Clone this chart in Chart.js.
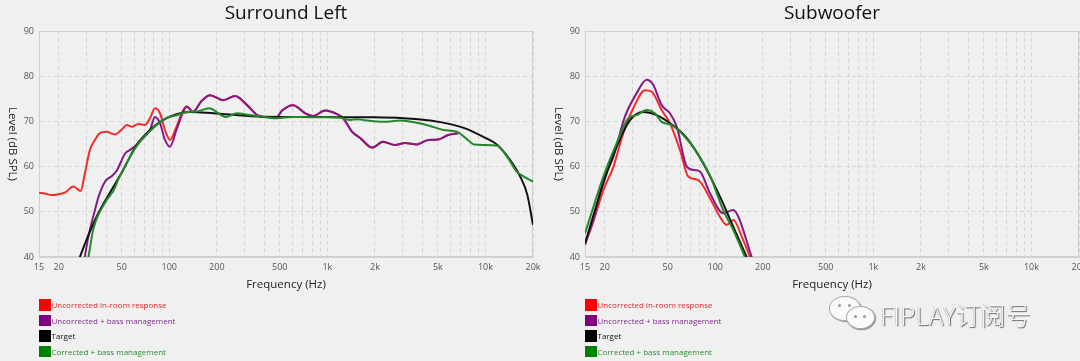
<!DOCTYPE html>
<html>
<head>
<meta charset="utf-8">
<script src="https://cdn.jsdelivr.net/npm/chart.js@4.4.1/dist/chart.umd.min.js"></script>
<style>
  html, body { margin: 0; padding: 0; }
  body {
    width: 1080px; height: 361px; overflow: hidden; position: relative;
    background: #f0f0f0; font-family: "Open Sans", "Noto Sans", sans-serif;
  }
  .panel { position: absolute; top: 0; width: 540px; height: 361px; }
  .panel canvas { position: absolute; left: 0; top: 0; }
  .title { position: absolute; left: 39px; width: 494px; top: -1px; text-align: center; font-size: 19px; line-height: 26px; color: #111; }
  .ylab { position: absolute; left: 6px; top: 31px; height: 226px; writing-mode: vertical-rl; text-align: center; font-size: 11.5px; color: #222; }
  .xlab { position: absolute; left: 39px; width: 494px; top: 276px; text-align: center; font-size: 11.5px; color: #222; }
  .legend { position: absolute; left: 39px; top: 299px; font-size: 8px; }
  .legend .row { height: 15.5px; display: flex; align-items: flex-start; }
  .legend .box { width: 11.5px; height: 11.5px; margin-right: 1px; }
  .legend .txt { line-height: 11.5px; }
  .bub { position: absolute; border-radius: 50%; background: #fafafa; border: 1px solid #aaa; box-shadow: 1px 1px 1px #888; }
  .bub i { position: absolute; width: 3px; height: 3px; border-radius: 50%; background: #999; }
  .wmtext { position: absolute; left: 880px; top: 296px; font-size: 25px; font-weight: 300; color: #f7f7f7;
    font-family: "Noto Sans CJK SC", "Open Sans", sans-serif; text-shadow: 1px 1px 1px #666, -0.5px -0.5px 0 #bbb; }
</style>
</head>
<body>

<div class="panel" style="left:0">
  <canvas id="surroundLeft" width="540" height="361"></canvas>
  <div class="title">Surround Left</div>
  <div class="ylab">Level (dB SPL)</div>
  <div class="xlab">Frequency (Hz)</div>
  <div class="legend" id="legend1"></div>
</div>

<div class="panel" style="left:546px">
  <canvas id="subwoofer" width="540" height="361"></canvas>
  <div class="title">Subwoofer</div>
  <div class="ylab">Level (dB SPL)</div>
  <div class="xlab">Frequency (Hz)</div>
  <div class="legend" id="legend2"></div>
</div>

<div class="bub" style="left:829px;top:296px;width:30px;height:23px"><i style="left:8px;top:7px"></i><i style="left:18px;top:7px"></i></div>
<div class="bub" style="left:846px;top:306px;width:27px;height:21px"><i style="left:7px;top:8px"></i><i style="left:16px;top:8px"></i></div>
<div class="wmtext">FIPLAY订阅号</div>

<script>
// axis ticks
const hzTicks = [15, 20, 30, 40, 50, 60, 70, 80, 90, 100, 200, 300, 400, 500, 600, 700, 800, 900,
  1000, 2000, 3000, 4000, 5000, 6000, 7000, 8000, 9000, 10000, 20000];
const hzLabelValues = [15, 20, 50, 100, 200, 500, 1000, 2000, 5000, 10000, 20000];
const hzLabelText = ['15', '20', '50', '100', '200', '500', '1k', '2k', '5k', '10k', '20k'];
const dbTicks = [40, 50, 60, 70, 80, 90];

const seriesNames = ['Uncorrected in-room response', 'Uncorrected + bass management', 'Target', 'Corrected + bass management'];
const lineColors = ['#f22b2b', '#841a86', '#111111', '#24882a'];
const boxColors = ['#ff0000', '#800080', '#000000', '#008000'];
const textColors = ['#e3262b', '#7d2b8b', '#111111', '#2a8a2f'];

// Surround Left - uncorrected, low part
const slRedHz = [15, 16.5, 18, 20, 22, 24.7, 26.3, 27.5, 29.3, 31.5, 33.9, 36.4, 40, 45.3, 50, 53.9, 58, 63.7, 70.2, 75.5, 81.2, 87.4, 94, 101, 111, 122.6];
const slRedDb = [54.2, 54.0, 53.7, 53.9, 54.3, 55.6, 55.0, 54.6, 58.6, 63.7, 65.9, 67.4, 67.7, 67.1, 68.2, 69.2, 68.8, 69.4, 69.2, 70.7, 72.9, 71.8, 68.1, 65.9, 68.8, 72.5];
// Surround Left - uncorrected + bass management, low part
const slPurpleHz = [28.6, 30.8, 33.9, 35.7, 39.3, 43.9, 46.7, 52.6, 56.5, 62.2, 68.4, 75.5, 81.2, 87.4, 94, 101, 111, 122.6];
const slPurpleDb = [38, 44.5, 50.4, 53.3, 56.7, 58.1, 59.2, 62.9, 63.7, 64.8, 66.3, 68.1, 71.0, 69.6, 65.9, 64.4, 68.1, 72.1];
// Surround Left - both uncorrected curves above 125 Hz
const slUpperHz = [129, 141, 160, 181, 219, 261, 311, 360, 416, 481, 517, 607, 724, 812, 969, 1152, 1260, 1437, 1617, 1920, 2250, 2680, 3100, 3690, 4340, 5020, 5810, 6710];
const slUpperDb = [73.3, 72.1, 74.5, 75.8, 74.7, 75.6, 73.6, 71.4, 70.9, 71.0, 72.4, 73.6, 71.8, 71.2, 72.4, 71.6, 70.7, 67.7, 66.3, 64.2, 65.5, 64.8, 65.2, 64.9, 65.9, 66.0, 67.0, 67.4];
// Surround Left - target
const slTargetHz = [26.3, 27.2, 34.7, 42.1, 51, 62.2, 75.5, 91.3, 111, 135, 190, 360, 1000, 2000, 3020, 4470, 5990, 7660, 9670, 11900, 14300, 16600, 18400, 20000];
const slTargetDb = [38.5, 40, 48.9, 54.2, 59.2, 64.8, 68.1, 70.3, 71.6, 72.1, 71.8, 71.1, 70.95, 70.9, 70.7, 70.2, 69.4, 68.3, 66.6, 64.8, 61.5, 57.8, 53.8, 47.1];
// Surround Left - corrected
const slCorrHz = [29.8, 30.8, 33.0, 40.2, 44.6, 47.4, 56.5, 65.2, 78.8, 96.4, 110, 129, 150, 178, 228, 268, 320, 400, 481, 600, 800, 1000, 1200, 1393, 1550, 1780, 2270, 2890, 3670, 4470, 5420, 6600, 7500, 8500, 9800, 11900, 13700, 15800, 17300, 20000];
const slCorrDb = [38, 40, 46.0, 52.6, 54.8, 57.0, 62.2, 65.5, 68.5, 70.8, 71.3, 72.1, 72.2, 72.9, 71.0, 71.8, 71.4, 71.0, 70.7, 71.0, 70.9, 70.9, 70.8, 70.3, 70.5, 70.2, 69.9, 70.2, 69.7, 69.0, 68.1, 67.7, 66.3, 64.9, 64.8, 64.6, 62.2, 58.9, 57.9, 56.7];

// Subwoofer
const swRedHz = [15, 17, 19.6, 22.7, 26.2, 30.3, 35.9, 39.6, 45.8, 51.7, 59.8, 67.5, 78.1, 92.6, 107, 118, 130, 150, 166, 180];
const swRedDb = [42.7, 48.0, 54.8, 60.0, 67.4, 72.9, 76.9, 76.6, 72.5, 69.6, 63.7, 57.8, 57.0, 53.0, 48.9, 47.1, 48.2, 43.8, 40, 37];
const swPurpleHz = [15, 17, 19.6, 22.7, 26.8, 31.8, 36.8, 40.5, 45.8, 51.7, 57.1, 66.1, 74.4, 80.1, 92.6, 112.3, 130, 140, 170, 180];
const swPurpleDb = [43.0, 48.5, 57.0, 62.2, 71.0, 76.2, 79.2, 78.1, 73.6, 71.8, 68.8, 60.0, 59.2, 58.9, 54.1, 49.7, 50.4, 48.9, 40, 37.5];
const swTargetHz = [15, 19.6, 23.8, 28.9, 35.0, 42.6, 51.7, 66.1, 84.0, 107, 130, 158, 170];
const swTargetDb = [43.0, 56.3, 64.4, 70.3, 72.1, 71.4, 69.6, 66.3, 60.7, 53.4, 46.7, 40, 37.5];
const swCorrHz = [15, 19.6, 23.8, 28.2, 31.8, 36.8, 41.5, 45.8, 53.0, 62.8, 76.3, 92.6, 112.3, 130, 154, 165];
const swCorrDb = [45.2, 57.8, 65.2, 70.7, 71.4, 72.5, 71.8, 69.9, 69.2, 67.0, 63.2, 58.0, 50.4, 46.0, 40, 37.5];

Chart.defaults.font.family = '"Open Sans", "Noto Sans", sans-serif';

const toPoints = (hz, db) => hz.map((x, i) => ({ x: x, y: db[i] }));

// light grey frame round the plot area
const frame = {
  id: 'frame',
  beforeDatasetsDraw(chart) {
    const { ctx, chartArea: a } = chart;
    ctx.save();
    ctx.strokeStyle = '#d0d0d0';
    ctx.lineWidth = 1;
    ctx.strokeRect(a.left + 0.5, a.top + 0.5, a.right - a.left - 1, a.bottom - a.top - 1);
    ctx.restore();
  }
};

function makeChart(id, curves) {
  return new Chart(document.getElementById(id), {
    type: 'line',
    data: {
      datasets: curves.map((c, i) => ({
        label: seriesNames[i],
        data: toPoints(c[0], c[1]),
        borderColor: lineColors[i],
        borderWidth: 2,
        pointRadius: 0,
        fill: false,
        cubicInterpolationMode: 'monotone',
        order: 4 - i, // later series drawn on top
      })),
    },
    options: {
      responsive: false,
      animation: false,
      devicePixelRatio: 1,
      layout: { padding: { left: 0, right: 7, top: 31, bottom: 84 } },
      plugins: { legend: { display: false }, tooltip: { enabled: false }, title: { display: false } },
      scales: {
        x: {
          type: 'logarithmic',
          min: 15,
          max: 20000,
          afterBuildTicks: (s) => { s.ticks = hzTicks.map(v => ({ value: v })); },
          afterFit: (s) => { s.height = 20; s.paddingLeft = 0; s.paddingRight = 0; },
          ticks: {
            autoSkip: false, maxRotation: 0, minRotation: 0, padding: 5,
            color: '#555', font: { size: 9 },
            callback: (v) => {
              const k = hzLabelValues.indexOf(v);
              return k >= 0 ? hzLabelText[k] : '';
            },
          },
          grid: { color: '#d6d6d6', drawTicks: false },
          border: { color: '#d0d0d0', dash: [4, 3] },
        },
        y: {
          min: 40,
          max: 90,
          afterBuildTicks: (s) => { s.ticks = dbTicks.map(v => ({ value: v })); },
          afterFit: (s) => { s.width = 39; s.paddingTop = 0; s.paddingBottom = 0; },
          ticks: { padding: 5, color: '#555', font: { size: 9 } },
          grid: { color: '#d6d6d6', drawTicks: false },
          border: { color: '#d0d0d0', dash: [4, 3] },
        },
      },
    },
    plugins: [frame],
  });
}

function makeLegend(id) {
  const el = document.getElementById(id);
  seriesNames.forEach((name, i) => {
    const row = document.createElement('div');
    row.className = 'row';
    row.innerHTML = '<span class="box" style="background:' + boxColors[i] + '"></span>' +
      '<span class="txt" style="color:' + textColors[i] + '">' + name + '</span>';
    el.appendChild(row);
  });
}

makeChart('surroundLeft', [
  [slRedHz.concat(slUpperHz), slRedDb.concat(slUpperDb)],
  [slPurpleHz.concat(slUpperHz), slPurpleDb.concat(slUpperDb)],
  [slTargetHz, slTargetDb],
  [slCorrHz, slCorrDb],
]);
makeChart('subwoofer', [
  [swRedHz, swRedDb],
  [swPurpleHz, swPurpleDb],
  [swTargetHz, swTargetDb],
  [swCorrHz, swCorrDb],
]);
makeLegend('legend1');
makeLegend('legend2');
</script>
</body>
</html>
